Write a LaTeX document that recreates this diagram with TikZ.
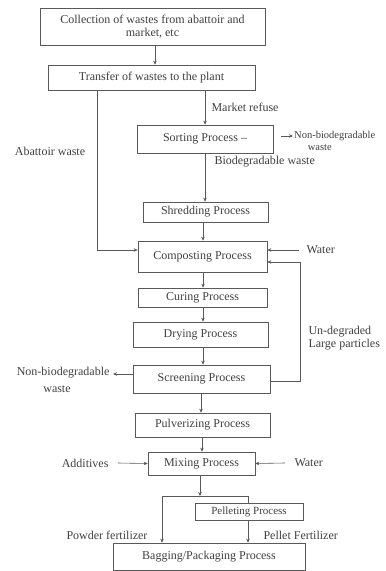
\documentclass[tikz,border=0pt]{standalone}
\usepackage{fontspec}
\setmainfont{Liberation Serif}
\usetikzlibrary{arrows.meta}

\begin{document}
\begin{tikzpicture}[x=1pt, y=-1pt,
	every node/.style={text=black!75, font=\fontsize{12}{13.5}\selectfont},
	procbox/.style={draw=black!65, line width=0.6pt, inner sep=0pt, align=center},
	flow/.style={draw=black!65, line width=0.6pt, -{Stealth[length=4pt, width=3.5pt]}},
	line/.style={draw=black!65, line width=0.6pt}]
	\useasboundingbox (0, 0) rectangle (386, 571);
	% process boxes
	\node[procbox, minimum width=225, minimum height=37] (collect) at (152.5, 26.5) {Collection of wastes from abattoir and\\market, etc};
	\node[procbox, minimum width=207, minimum height=25] (transfer) at (151.5, 77.5) {Transfer of wastes to the plant};
	\node[procbox, minimum width=136, minimum height=28] (sorting) at (205, 139) {Sorting Process --};
	\node[procbox, minimum width=125, minimum height=20] (shred) at (205.5, 212) {Shredding Process};
	\node[procbox, minimum width=129, minimum height=31] (compost) at (202.5, 256.5) {Composting Process};
	\node[procbox, minimum width=129, minimum height=19] (curing) at (202.5, 297.5) {Curing Process};
	\node[procbox, minimum width=135, minimum height=25] (drying) at (200.5, 334.5) {Drying Process};
	\node[procbox, minimum width=137, minimum height=28] (screen) at (201.5, 379) {Screening Process};
	\node[procbox, minimum width=135, minimum height=24] (pulver) at (202.5, 425) {Pulverizing Process};
	\node[procbox, minimum width=107, minimum height=23] (mixing) at (201.5, 463.5) {Mixing Process};
	\node[procbox, minimum width=108, minimum height=17, font=\fontsize{11}{12}\selectfont] (pellet) at (249, 511.5) {Pelleting Process};
	\node[procbox, minimum width=192, minimum height=27] (bagging) at (209, 556.5) {Bagging/Packaging Process};

	% side labels
	\node[anchor=west] (market) at (208, 107) {Market refuse};
	\node[anchor=west] (biodeg) at (211, 162) {Biodegradable waste};
	\node[anchor=west, align=center, inner sep=1pt, font=\fontsize{10.5}{12}\selectfont] (nonbio1) at (293, 141) {Non-biodegradable\\\hspace*{-30pt}waste};
	\node (abattoir) at (50, 151) {Abattoir waste};
	\node[anchor=west] (water1) at (303, 250) {Water};
	\node[anchor=west, align=left] (undeg) at (305, 338) {Un-degraded\\Large particles};
	\node[anchor=east] (nonbio2) at (113, 373) {Non-biodegradable};
	\node (nonbio2b) at (57, 389) {waste};
	\node[anchor=east] (additives) at (112, 463) {Additives};
	\node[anchor=west] (water2) at (291, 463) {Water};
	\node (powder) at (107, 535) {Powder fertilizer};
	\node[anchor=west] (pelletfert) at (260, 535) {Pellet Fertilizer};

	\coordinate (split) at (200, 496);
	\coordinate (splitl) at (162, 496);
	\coordinate (splitr) at (248, 496);

	% connectors
	\draw[flow] (collect.south -| 155, 0) -- (transfer.north -| 155, 0);
	\draw[flow] (transfer.south -| 97, 0) -- (97, 250) -- (compost.west |- 0, 250);
	\draw[flow] (transfer.south -| 205, 0) -- (sorting.north -| 205, 0);
	\draw[flow] (sorting.east |- 0, 136) ++(8, 0) -- (nonbio1.west |- 0, 136);
	\draw[flow] (sorting.south -| 205, 0) -- (shred.north -| 205, 0);
	\draw[flow] (shred.south -| 203, 0) -- (compost.north -| 203, 0);
	\draw[flow] (water1.west) ++(-4, 0) -- (compost.east |- 0, 250);
	\draw[flow] (compost.south -| 203, 0) -- (curing.north -| 203, 0);
	\draw[flow] (curing.south -| 203, 0) -- (drying.north -| 203, 0);
	\draw[flow] (drying.south -| 203, 0) -- (screen.north -| 203, 0);
	\draw[flow] (screen.east |- 0, 381) -- (300, 381) -- (300, 262) -- (compost.east |- 0, 262);
	\draw[flow] (screen.west |- 0, 374) -- (nonbio2.east |- 0, 374);
	\draw[flow] (screen.south -| 201, 0) -- (pulver.north -| 201, 0);
	\draw[flow] (pulver.south -| 202, 0) -- (mixing.north -| 202, 0);
	\draw[flow] (additives.east) ++(6, 0) -- (mixing.west);
	\draw[flow] (water2.west) ++(-6, 0) -- (mixing.east);
	\draw[flow] (mixing.south -| 200, 0) -- (split);
	\draw[line] (splitl) -- (splitr) -- (pellet.north -| splitr);
	\draw[flow] (splitl) -- (bagging.north -| splitl);
	\draw[flow] (pellet.south -| splitr) -- (bagging.north -| splitr);
\end{tikzpicture}
\end{document}
